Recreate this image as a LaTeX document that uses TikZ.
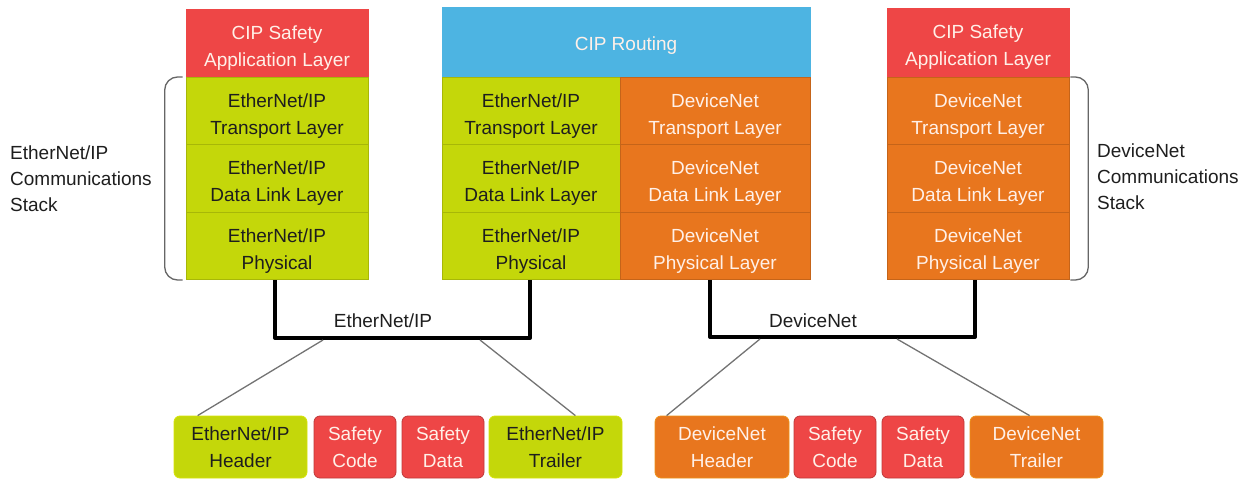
\documentclass[tikz,border=0pt]{standalone}
\usepackage{fontspec}
\setmainfont{Liberation Sans}
\usetikzlibrary{calc}
\definecolor{cred}{HTML}{EE4646}
\definecolor{cgreen}{HTML}{C4D70A}
\definecolor{corange}{HTML}{E8761E}
\definecolor{cblue}{HTML}{4DB4E2}
\definecolor{ctxt}{HTML}{1E1E1E}
\definecolor{cwtxt}{HTML}{FFF0E8}
\newcommand\twol[3][4.5pt]{\raisebox{-#1}[\height][\depth]{\begin{tabular}{@{}c@{}}#2\\#3\end{tabular}}}
\newcommand\onel[2][4pt]{\raisebox{-#1}[\height][\depth]{#2}}
\tikzset{
  layer/.style={rectangle, align=center, inner sep=0pt, minimum width=182pt, minimum height=67.5pt,
    font=\fontsize{19}{27}\selectfont},
  grn/.style={fill=cgreen, draw=cgreen!85!black, line width=0.6pt, text=ctxt},
  org/.style={fill=corange, draw=corange!85!black, line width=0.6pt, text=cwtxt},
  rd/.style={fill=cred, draw=cred, text=cwtxt},
  pkt/.style={rectangle, rounded corners=6pt, align=center, inner sep=0pt, minimum height=62pt,
    font=\fontsize{19}{27}\selectfont, line width=0.8pt},
  pgrn/.style={fill=cgreen, draw=cgreen!70!yellow, text=ctxt},
  porg/.style={fill=corange, draw=corange!80!yellow, text=cwtxt},
  prd/.style={fill=cred, draw=cred!80!black, text=cwtxt},
  bus/.style={line width=4pt, line join=round, draw=black},
  thin/.style={line width=1.3pt, draw=black!55},
  brace/.style={line width=1.3pt, draw=black!60, rounded corners=13pt},
  side/.style={align=left, font=\fontsize{19}{26}\selectfont, text=ctxt, inner sep=0pt},
  buslabel/.style={font=\fontsize{19}{22}\selectfont, text=ctxt, inner sep=0pt}
}
\begin{document}
\begin{tikzpicture}[x=1pt,y=-1pt]
\useasboundingbox (0,0) rectangle (1251,481);
% left stack
\node[layer, rd] (lapp) at (277,43) {\twol{CIP Safety}{Application Layer}};
\node[layer, grn] (ltr) at (277,111) {\twol{EtherNet/IP}{Transport Layer}};
\node[layer, grn] (ldl) at (277,178.5) {\twol{EtherNet/IP}{Data Link Layer}};
\node[layer, grn] (lph) at (277,246) {\twol{EtherNet/IP}{Physical}};
% middle stack
\node[layer, fill=cblue, draw=cblue, text=cwtxt, minimum width=368pt, minimum height=70pt] (route) at (626,42) {\onel{CIP Routing}};
\node[layer, grn, minimum width=178pt] (mgtr) at (531,111) {\twol{EtherNet/IP}{Transport Layer}};
\node[layer, grn, minimum width=178pt] (mgdl) at (531,178.5) {\twol{EtherNet/IP}{Data Link Layer}};
\node[layer, grn, minimum width=178pt] (mgph) at (531,246) {\twol{EtherNet/IP}{Physical}};
\node[layer, org, minimum width=190pt] (motr) at (715,111) {\twol{DeviceNet}{Transport Layer}};
\node[layer, org, minimum width=190pt] (modl) at (715,178.5) {\twol{DeviceNet}{Data Link Layer}};
\node[layer, org, minimum width=190pt] (moph) at (715,246) {\twol{DeviceNet}{Physical Layer}};
% right stack
\node[layer, rd] (rapp) at (978,42) {\twol{CIP Safety}{Application Layer}};
\node[layer, org] (rtr) at (978,111) {\twol{DeviceNet}{Transport Layer}};
\node[layer, org] (rdl) at (978,178.5) {\twol{DeviceNet}{Data Link Layer}};
\node[layer, org] (rph) at (978,246) {\twol{DeviceNet}{Physical Layer}};
% braces
\draw[brace] (ltr.north west) ++(-3,0) -- ++(-18,0) -- ($(lph.south west)+(-21,0)$) -- ($(lph.south west)+(-3,0)$);
\draw[brace] (rtr.north east) ++(1,0) -- ++(18,0) -- ($(rph.south east)+(19,0)$) -- ($(rph.south east)+(1,0)$);
\node[side, anchor=west] (lside) at (10,179) {EtherNet/IP\\Communications\\Stack};
\node[side, anchor=west] (rside) at (1097,177) {DeviceNet\\Communications\\Stack};
% buses
\coordinate (eL) at ($(lph.south)+(-2,0)$);
\coordinate (eR) at ($(mgph.south)+(-1,0)$);
\coordinate (dL) at ($(moph.south)+(-5,0)$);
\coordinate (dR) at ($(rph.south)+(-3,0)$);
\draw[bus] (eL) -- ($(eL)+(0,58)$) coordinate (eBL) -- ($(eR)+(0,58)$) coordinate (eBR) -- (eR);
\draw[bus] (dL) -- ($(dL)+(0,57)$) coordinate (dBL) -- ($(dR)+(0,57)$) coordinate (dBR) -- (dR);
\node[buslabel] (elab) at (383,321) {EtherNet/IP};
\node[buslabel] (dlab) at (813,321) {DeviceNet};
% packets
\node[pkt, pgrn, minimum width=133pt] (eh) at (240.5,447) {\twol[2pt]{EtherNet/IP}{Header}};
\node[pkt, prd, minimum width=82pt] (ec) at (355,447) {\twol[2pt]{Safety}{Code}};
\node[pkt, prd, minimum width=82pt] (ed) at (443,447) {\twol[2pt]{Safety}{Data}};
\node[pkt, pgrn, minimum width=133pt] (et) at (555.5,447) {\twol[2pt]{EtherNet/IP}{Trailer}};
\node[pkt, porg, minimum width=134pt] (dh) at (722,447) {\twol[2pt]{DeviceNet}{Header}};
\node[pkt, prd, minimum width=82pt] (dc) at (835,447) {\twol[2pt]{Safety}{Code}};
\node[pkt, prd, minimum width=82pt] (dd) at (923,447) {\twol[2pt]{Safety}{Data}};
\node[pkt, porg, minimum width=133pt] (dt) at (1036.5,447) {\twol[2pt]{DeviceNet}{Trailer}};
% thin connectors
\coordinate (eA) at (323,340);
\coordinate (eB) at (480,340);
\coordinate (dA) at (760,339);
\coordinate (dB) at (897,339);
\draw[thin] (eA) -- ($(eh.north west)+(24,0)$);
\draw[thin] (eB) -- ($(et.north east)+(-47,0)$);
\draw[thin] (dA) -- ($(dh.north west)+(12,0)$);
\draw[thin] (dB) -- ($(dt.north west)+(60,0)$);
\end{tikzpicture}
\end{document}
